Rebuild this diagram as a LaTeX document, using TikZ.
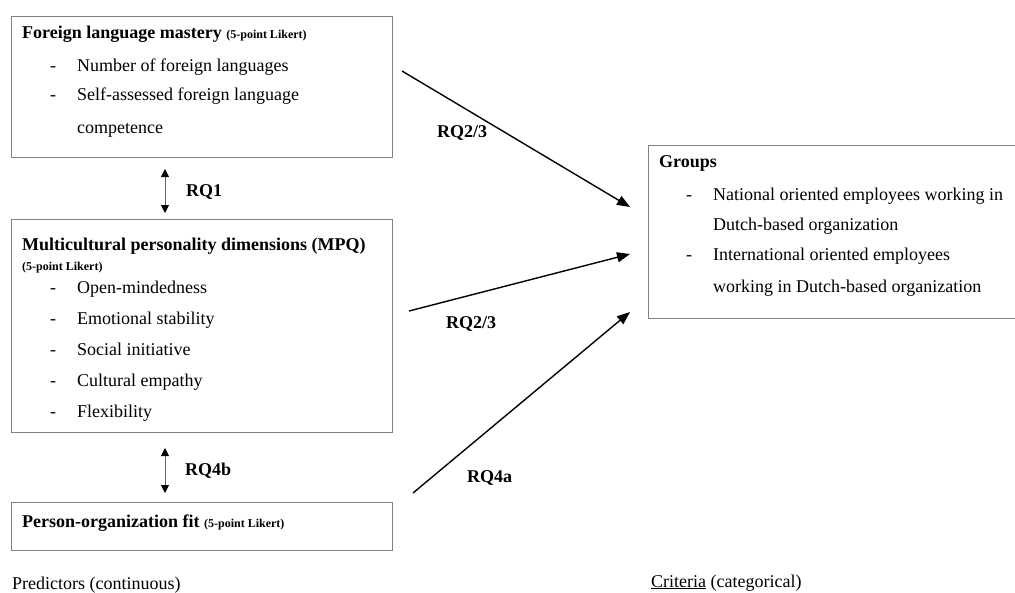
\documentclass[tikz,border=0pt]{standalone}
\usepackage{fontspec}
\setmainfont{Liberation Serif}
\usetikzlibrary{arrows.meta}
\tikzset{every node/.style={font=\fontsize{18}{20}\selectfont}}
\newcommand{\likert}{{\fontsize{12}{14}\selectfont\bfseries (5-point Likert)}}

\begin{document}
\begin{tikzpicture}[x=1pt, y=-1pt, >=Stealth]
  % Fixed bounding box (page size of the original)
  \path[use as bounding box] (0,0) rectangle (1015,592);

  % Colors.
  \colorlet{boxcol}{black!50}
  \colorlet{biarrcol}{black!60}
  \tikzset{
    box/.style={draw=boxcol, line width=0.8pt, inner sep=0, anchor=north west},
    txt/.style={anchor=base west, inner sep=0},
    rel/.style={-{Stealth[length=13pt, width=10pt, inset=0pt]}, line width=1.4pt},
    biarr/.style={{Stealth[length=8pt, width=8pt, inset=0pt, black]}-{Stealth[length=8pt, width=8pt, inset=0pt, black]}, draw=biarrcol, line width=0.9pt}
  }

  % Predictor boxes.
  \node[box, minimum width=381pt, minimum height=141pt] (lang) at (11,16) {};
  \node[box, minimum width=381pt, minimum height=213pt] (mpq) at (11,219) {};
  \node[box, minimum width=381pt, minimum height=48pt] (pof) at (11,502) {};

  % Criterion box (right side runs off the page).
  \node[box, minimum width=380pt, minimum height=173pt] (groups) at (648,145) {};

  % Foreign language mastery.
  \node[txt] (langtitle) at (22,38) {\textbf{Foreign language mastery} \likert};
  \foreach \y/\t [count=\i] in {71/Number of foreign languages, 100/Self-assessed foreign language} {
    \node[txt] (langdash\i) at (50,\y) {-};
    \node[txt] (langitem\i) at (77,\y) {\t};
  }
  \node[txt] (langitem3) at (77,133) {competence};

  % Multicultural personality.
  \node[txt] (mpqtitle) at (22,250) {\textbf{Multicultural personality dimensions (MPQ)}};
  \node[txt] (mpqscale) at (22,270) {\likert};
  \foreach \y/\t [count=\i] in {293/Open-mindedness, 324/Emotional stability, 355/Social initiative, 386/Cultural empathy, 417/Flexibility} {
    \node[txt] (mpqdash\i) at (50,\y) {-};
    \node[txt] (mpqitem\i) at (77,\y) {\t};
  }

  % Person-organization fit.
  \node[txt] (poftitle) at (22,527) {\textbf{Person-organization fit} \likert};

  % Groups.
  \node[txt] (groupstitle) at (659,167) {\textbf{Groups}};
  \node[txt] (groupsdash1) at (686,200) {-};
  \node[txt] (groupsitem1) at (713,200) {National oriented employees working in};
  \node[txt] (groupsitem1b) at (713,230) {Dutch-based organization};
  \node[txt] (groupsdash2) at (686,260) {-};
  \node[txt] (groupsitem2) at (713,260) {International oriented employees};
  \node[txt] (groupsitem2b) at (713,292) {working in Dutch-based organization};

  % Arrow end points.
  \coordinate (A) at (402,71);
  \coordinate (B) at (630,207);
  \coordinate (C) at (409,311);
  \coordinate (D) at (630,254);
  \coordinate (E) at (413,493);
  \coordinate (F) at (630,312);
  \coordinate (G) at (165,169);
  \coordinate (H) at (165,213);
  \coordinate (I) at (165,448);
  \coordinate (J) at (165,493);

  % Relations.
  \draw[rel] (A) -- (B);
  \draw[rel] (C) -- (D);
  \draw[rel] (E) -- (F);
  \draw[biarr] (G) -- (H);
  \draw[biarr] (I) -- (J);

  \node[txt] (rqa) at (437,137) {\textbf{RQ2/3}};
  \node[txt] (rqb) at (446,328) {\textbf{RQ2/3}};
  \node[txt] (rqc) at (467,482) {\textbf{RQ4a}};
  \node[txt] (rqd) at (186,196) {\textbf{RQ1}};
  \node[txt] (rqe) at (185,475) {\textbf{RQ4b}};

  % Bottom captions.
  \node[txt] (predictors) at (12,589) {Predictors (continuous)};
  \node[txt] (criteria) at (651,587) {\underline{Criteria} (categorical)};
\end{tikzpicture}
\end{document}
